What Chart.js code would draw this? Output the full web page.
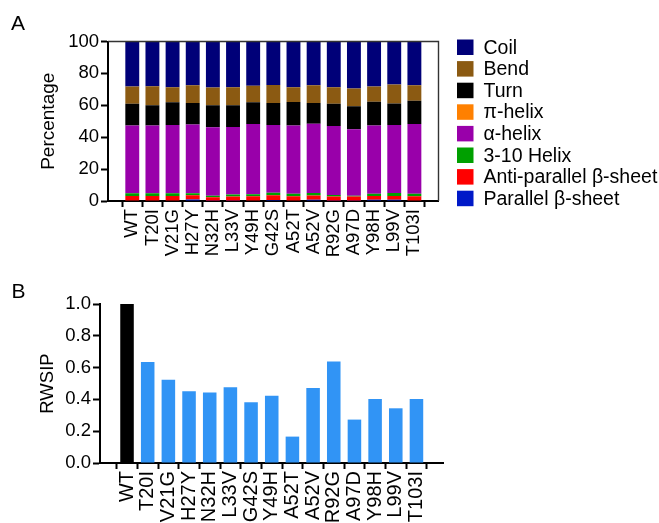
<!DOCTYPE html>
<html>
<head>
<meta charset="utf-8">
<script src="https://cdn.jsdelivr.net/npm/chart.js@4.4.0/dist/chart.umd.min.js"></script>
<style>
  html, body { margin: 0; padding: 0; background: #fff; }
  #wrap { position: relative; width: 659px; height: 523px; }
  .panel { position: absolute; left: 0; width: 659px; }
</style>
</head>
<body>
<div id="wrap">
  <div class="panel" style="top:0;height:262px"><canvas id="structure" width="659" height="262"></canvas></div>
  <div class="panel" style="top:262px;height:261px"><canvas id="rwsip" width="659" height="261"></canvas></div>
</div>
<script>
// ---- Panel A: secondary-structure composition (%) per variant ----
const structureVariants = ['WT', 'T20I', 'V21G', 'H27Y', 'N32H', 'L33V', 'Y49H', 'G42S',
                           'A52T', 'A52V', 'R92G', 'A97D', 'Y98H', 'L99V', 'T103I'];
const parallelSheet     = [0.3, 0.3, 0.3, 1.0, 0.2, 0.2, 0.3, 0.6, 0.3, 0.8, 0.2, 0.2, 0.8, 0.8, 0.3];
const antiparallelSheet = [2.8, 2.8, 2.9, 2.6, 2.2, 2.6, 2.7, 3.0, 2.7, 2.6, 2.6, 2.6, 2.3, 2.4, 2.7];
const helix310          = [1.7, 1.7, 1.6, 1.2, 0.9, 1.2, 1.2, 1.6, 1.6, 1.6, 1.0, 0.5, 1.5, 1.8, 1.6];
const alphaHelix        = [42.5, 42.5, 42.9, 43.1, 42.9, 42.4, 44.1, 42.5, 42.7, 43.5, 43.3, 41.7, 42.7, 42.7, 43.7];
const piHelix           = [0, 0, 0, 0, 0, 0, 0, 0, 0, 0, 0, 0, 0, 0, 0];
const turn              = [13.6, 12.7, 14.2, 13.6, 13.8, 13.6, 13.6, 13.8, 14.8, 13.0, 13.8, 14.4, 15.0, 13.4, 14.5];
const bend              = [10.9, 12.0, 9.4, 11.1, 11.1, 11.3, 10.3, 11.3, 9.2, 11.1, 10.4, 11.1, 9.5, 11.9, 9.8];
const coil              = [28.2, 28.0, 28.7, 27.4, 28.9, 28.7, 27.8, 27.2, 28.7, 27.4, 28.7, 29.5, 28.2, 27.0, 27.4];
const percentTicks      = [0, 20, 40, 60, 80, 100];

// ---- Panel B: RWSIP per variant ----
const rwsipVariants = ['WT', 'T20I', 'V21G', 'H27Y', 'N32H', 'L33V', 'G42S', 'Y49H',
                       'A52T', 'A52V', 'R92G', 'A97D', 'Y98H', 'L99V', 'T103I'];
const rwsipValues   = [1.00, 0.635, 0.524, 0.451, 0.444, 0.476, 0.382, 0.423,
                       0.166, 0.472, 0.639, 0.273, 0.403, 0.344, 0.403];
const rwsipTicks    = [0, 0.2, 0.4, 0.6, 0.8, 1.0];

const FONT = "'Liberation Sans', Arial, Helvetica, sans-serif";
Chart.defaults.font.family = FONT;
Chart.defaults.color = '#000';

// bottom-to-top stacking order
const structureSeries = [
  { label: 'Parallel β-sheet',      values: parallelSheet,     color: '#0019c8' },
  { label: 'Anti-parallel β-sheet', values: antiparallelSheet, color: '#ff0000' },
  { label: '3-10 Helix',            values: helix310,          color: '#00a000' },
  { label: 'α-helix',               values: alphaHelix,        color: '#9900aa' },
  { label: 'π-helix',               values: piHelix,           color: '#ff8000' },
  { label: 'Turn',                  values: turn,              color: '#000000' },
  { label: 'Bend',                  values: bend,              color: '#8b5a12' },
  { label: 'Coil',                  values: coil,              color: '#000078' }
];

// category positions on a numeric axis so the bars sit inset from the frame
const asPoints = vals => vals.map((v, i) => ({ x: i, y: v }));

// panel letter ("A", "B") in the top-left corner
const panelLetter = {
  id: 'panelLetter',
  afterDraw(chart, args, opts) {
    const ctx = chart.ctx;
    ctx.save();
    ctx.font = `21px ${FONT}`;
    ctx.fillStyle = '#000';
    ctx.textBaseline = 'alphabetic';
    ctx.textAlign = 'left';
    ctx.fillText(opts.text, opts.x, opts.y);
    ctx.restore();
  }
};

// thin top/right frame around the plot area of panel A
const plotFrame = {
  id: 'plotFrame',
  afterDatasetsDraw(chart) {
    const { ctx, chartArea: a } = chart;
    ctx.save();
    ctx.strokeStyle = '#333';
    ctx.lineWidth = 1.4;
    ctx.beginPath();
    ctx.moveTo(a.left, a.top);
    ctx.lineTo(a.right, a.top);
    ctx.lineTo(a.right, a.bottom);
    ctx.stroke();
    ctx.restore();
  }
};

// legend listed top-down (reverse of stacking order)
const sideLegend = {
  id: 'sideLegend',
  afterDraw(chart, args, opts) {
    const ctx = chart.ctx;
    ctx.save();
    ctx.font = `19.5px ${FONT}`;
    ctx.textBaseline = 'middle';
    ctx.textAlign = 'left';
    const sets = chart.data.datasets.slice().reverse();
    sets.forEach((ds, k) => {
      const y = opts.top + k * opts.rowStep;
      ctx.fillStyle = ds.backgroundColor;
      ctx.fillRect(opts.boxX, y, opts.boxW, opts.boxH);
      ctx.fillStyle = '#000';
      ctx.fillText(ds.label, opts.textX, y + opts.boxH / 2 + 1);
    });
    ctx.restore();
  }
};

const axisCommon = {
  grid: { display: true, drawOnChartArea: false, drawTicks: true, tickLength: 7, tickColor: '#000', tickWidth: 2 },
  border: { display: true, color: '#000', width: 2 }
};

new Chart(document.getElementById('structure'), {
  type: 'bar',
  data: {
    datasets: structureSeries.map(s => ({
      label: s.label,
      data: asPoints(s.values),
      backgroundColor: s.color,
      borderWidth: 0,
      categoryPercentage: 1,
      barPercentage: 0.69
    }))
  },
  options: {
    responsive: false,
    animation: false,
    layout: { padding: { left: 0, top: 41.5, right: 220.5, bottom: 0 } },
    plugins: {
      legend: { display: false },
      tooltip: { enabled: false },
      panelLetter: { text: 'A', x: 11, y: 30 },
      sideLegend: { top: 39.5, rowStep: 21.6, boxX: 457, boxW: 16.5, boxH: 15.5, textX: 483.5 }
    },
    scales: {
      x: {
        type: 'linear',
        stacked: true,
        min: -0.658,
        max: 14.65,
        ...axisCommon,
        grid: { ...axisCommon.grid, tickLength: 6 },
        afterBuildTicks: s => { s.ticks = structureVariants.map((_, i) => ({ value: i })); },
        afterFit: s => { s.height = 61; },
        ticks: {
          autoSkip: false, minRotation: 90, maxRotation: 90, padding: 2,
          font: { size: 18.5 },
          callback: v => structureVariants[v]
        }
      },
      y: {
        stacked: true,
        min: 0,
        max: 100,
        ...axisCommon,
        afterBuildTicks: s => { s.ticks = percentTicks.map(v => ({ value: v })); },
        afterFit: s => { s.width = 108; },
        ticks: { padding: 2, font: { size: 18.5 } },
        title: { display: true, text: 'Percentage', font: { size: 19 }, padding: { top: 37, bottom: 0 } }
      }
    }
  },
  plugins: [panelLetter, plotFrame, sideLegend]
});

new Chart(document.getElementById('rwsip'), {
  type: 'bar',
  data: {
    datasets: [{
      label: 'RWSIP',
      data: asPoints(rwsipValues),
      backgroundColor: rwsipVariants.map(v => v === 'WT' ? '#000000' : '#3194f5'),
      borderWidth: 0,
      categoryPercentage: 1,
      barPercentage: 0.655
    }]
  },
  options: {
    responsive: false,
    animation: false,
    layout: { padding: { left: 0, top: 42, right: 216, bottom: 0 } },
    plugins: {
      legend: { display: false },
      tooltip: { enabled: false },
      panelLetter: { text: 'B', x: 11.5, y: 35.5 }
    },
    scales: {
      x: {
        type: 'linear',
        min: -0.754,
        max: 14.731,
        ...axisCommon,
        grid: { ...axisCommon.grid, tickLength: 6 },
        afterBuildTicks: s => { s.ticks = rwsipVariants.map((_, i) => ({ value: i })); },
        afterFit: s => { s.height = 60; },
        ticks: {
          autoSkip: false, minRotation: 90, maxRotation: 90, padding: 2,
          font: { size: 20 },
          callback: v => rwsipVariants[v]
        }
      },
      y: {
        min: 0,
        max: 1,
        ...axisCommon,
        afterBuildTicks: s => { s.ticks = rwsipTicks.map(v => ({ value: v })); },
        afterFit: s => { s.width = 100; },
        ticks: { padding: 2, font: { size: 18.5 }, callback: v => v.toFixed(1) },
        title: { display: true, text: 'RWSIP', font: { size: 18.5 }, padding: { top: 37, bottom: 0 } }
      }
    }
  },
  plugins: [panelLetter]
});
</script>
</body>
</html>
